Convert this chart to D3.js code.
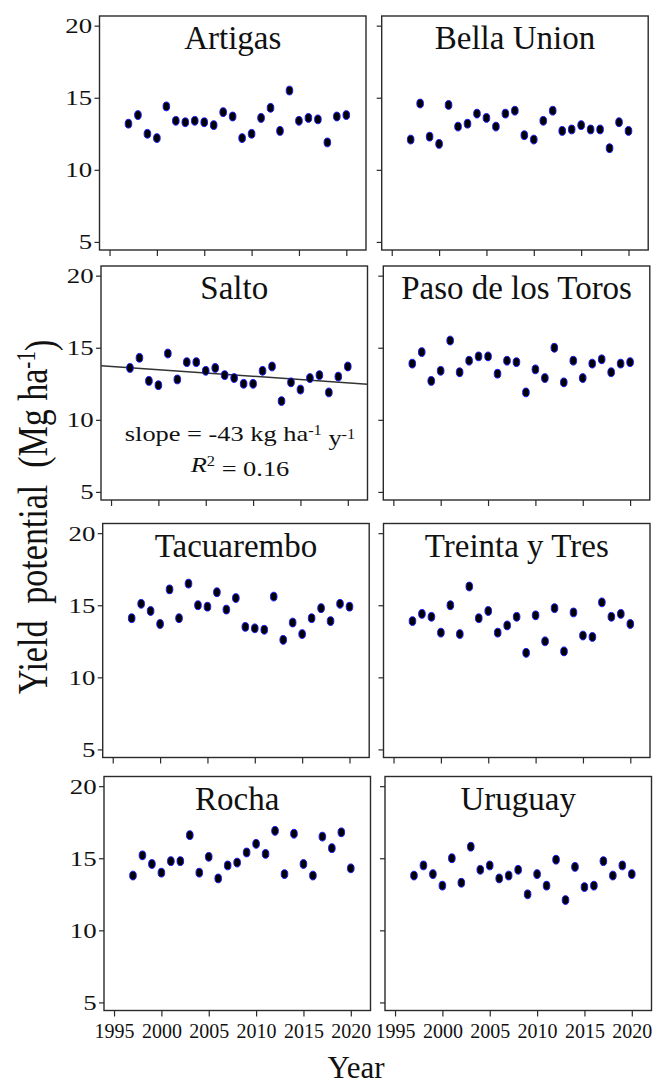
<!DOCTYPE html>
<html>
<head>
<meta charset="utf-8">
<script src="https://cdn.jsdelivr.net/npm/d3@7"></script>
<style>
  body { margin: 0; background: #fff; }
  text { font-family: "Liberation Serif", "Times New Roman", serif; fill: #111; }
</style>
</head>
<body>
<svg id="chart" width="654" height="1086"></svg>
<script>
// Yield potential (Mg/ha) per site, 1997-2020
const years = [1997, 1998, 1999, 2000, 2001, 2002, 2003, 2004, 2005, 2006, 2007, 2008,
               2009, 2010, 2011, 2012, 2013, 2014, 2015, 2016, 2017, 2018, 2019, 2020];

const artigas    = [13.2, 13.8, 12.5, 12.2, 14.4, 13.4, 13.3, 13.4, 13.3, 13.1, 14.0, 13.7,
                    12.2, 12.5, 13.6, 14.3, 12.7, 15.5, 13.4, 13.6, 13.5, 11.9, 13.7, 13.8];
const bellaUnion = [12.1, 14.6, 12.3, 11.8, 14.5, 13.0, 13.2, 13.9, 13.6, 13.0, 13.9, 14.1,
                    12.4, 12.1, 13.4, 14.1, 12.7, 12.8, 13.1, 12.8, 12.8, 11.5, 13.3, 12.7];
const salto      = [13.6, 14.3, 12.7, 12.4, 14.6, 12.8, 14.0, 14.0, 13.4, 13.6, 13.1, 12.9,
                    12.5, 12.5, 13.4, 13.7, 11.3, 12.6, 12.1, 12.9, 13.1, 11.9, 13.0, 13.7];
const pasoToros  = [13.9, 14.7, 12.7, 13.4, 15.5, 13.3, 14.1, 14.4, 14.4, 13.2, 14.1, 14.0,
                    11.9, 13.5, 12.9, 15.0, 12.6, 14.1, 12.9, 13.9, 14.2, 13.3, 13.9, 14.0];
const tacuarembo = [14.1, 15.1, 14.6, 13.7, 16.1, 14.1, 16.5, 15.0, 14.9, 15.9, 14.7, 15.5,
                    13.5, 13.4, 13.3, 15.6, 12.6, 13.8, 13.0, 14.1, 14.8, 13.9, 15.1, 14.9];
const treinta    = [13.9, 14.4, 14.2, 13.1, 15.0, 13.0, 16.3, 14.1, 14.6, 13.1, 13.6, 14.2,
                    11.7, 14.3, 12.5, 14.8, 11.8, 14.5, 12.9, 12.8, 15.2, 14.2, 14.4, 13.7];
const rocha      = [13.8, 15.2, 14.6, 14.0, 14.8, 14.8, 16.6, 14.0, 15.1, 13.6, 14.5, 14.7,
                    15.4, 16.0, 15.3, 16.9, 13.9, 16.7, 14.6, 13.8, 16.5, 15.7, 16.8, 14.3];
const uruguay    = [13.8, 14.5, 13.9, 13.1, 15.0, 13.3, 15.8, 14.2, 14.5, 13.6, 13.8, 14.2,
                    12.5, 13.9, 13.1, 14.9, 12.1, 14.4, 13.0, 13.1, 14.8, 13.8, 14.5, 13.9];

const sites = ["Artigas", "Bella Union", "Salto", "Paso de los Toros",
               "Tacuarembo", "Treinta y Tres", "Rocha", "Uruguay"];
const series = [artigas, bellaUnion, salto, pasoToros, tacuarembo, treinta, rocha, uruguay];

const yTicks = [5, 10, 15, 20];
const xTicks = [1995, 2000, 2005, 2010, 2015, 2020];
const saltoSlopeLabel = "-43";
const saltoR2Label = "0.16";

// Layout
const svg = d3.select("#chart");
const panelW = 266.5, panelH = 234;
const rowTop = [16, 266, 523.5, 776.5];
const colLeft = [[99.5, 381.7], [101, 383.3], [102.7, 383.5], [104, 385]];

const xScale = d3.scaleLinear().domain([1993.94, 2022.08]).range([0, panelW]);
const yScale = d3.scaleLinear().domain([4.44, 20.67]).range([panelH, 0]);

function sup(t, s) {
    t.append("tspan").attr("dy", "-0.45em").style("font-size", "0.62em").text(s);
}

series.forEach(function (vals, i) {
    const row = Math.floor(i / 2), col = i % 2;
    const g = svg.append("g")
        .attr("transform", "translate(" + colLeft[row][col] + "," + rowTop[row] + ")");

    // Frame
    g.append("rect")
        .attr("width", panelW)
        .attr("height", panelH)
        .attr("fill", "none")
        .attr("stroke", "#2a2a2a")
        .attr("stroke-width", 1.4);

    // y-axis
    const ya = g.append("g")
        .call(d3.axisLeft(yScale).tickValues(yTicks).tickSize(5).tickPadding(1)
            .tickFormat(col == 0 ? d3.format("d") : ""));
    ya.select(".domain").remove();
    ya.selectAll("line").attr("stroke", "#2a2a2a").attr("stroke-width", 1.2);
    ya.selectAll("text")
        .style("font-size", "22px")
        .attr("transform", "scale(1.22,1)");

    // x-axis
    const xa = g.append("g")
        .attr("transform", "translate(0," + panelH + ")")
        .call(d3.axisBottom(xScale).tickValues(xTicks).tickSize(6).tickPadding(7)
            .tickFormat(row == 3 ? d3.format("d") : ""));
    xa.select(".domain").remove();
    xa.selectAll("line").attr("stroke", "#2a2a2a").attr("stroke-width", 1.2);
    xa.selectAll("text").style("font-size", "20px");

    // Title
    g.append("text")
        .attr("x", panelW / 2)
        .attr("y", 33)
        .attr("text-anchor", "middle")
        .style("font-size", "33px")
        .text(sites[i]);

    // Trend line for Salto
    if (sites[i] == "Salto") {
        const mx = d3.mean(years), my = d3.mean(vals);
        const sxy = d3.sum(years, (d, k) => (d - mx) * (vals[k] - my));
        const sxx = d3.sum(years, d => (d - mx) * (d - mx));
        const b = sxy / sxx, a = my - b * mx;
        const dom = xScale.domain();
        g.append("path")
            .datum(dom)
            .attr("fill", "none")
            .attr("stroke", "#333")
            .attr("stroke-width", 1.5)
            .attr("d", d3.line()
                .x(function (d) { return xScale(d) })
                .y(function (d) { return yScale(a + b * d) }));

        const ann = g.append("g")
            .attr("transform", "translate(139,175) scale(1.2,1)");
        const t1 = ann.append("text")
            .attr("text-anchor", "middle")
            .style("font-size", "22px")
            .text("slope = " + saltoSlopeLabel + " kg ha");
        sup(t1, "-1");
        t1.append("tspan").attr("dy", "0.45em").text(" y");
        sup(t1, "-1");

        const t2 = ann.append("text")
            .attr("y", 31)
            .attr("text-anchor", "middle")
            .style("font-size", "22px");
        t2.append("tspan").style("font-style", "italic").text("R");
        sup(t2, "2");
        t2.append("tspan").attr("dy", "0.45em").text(" = " + saltoR2Label);
    }

    // Points
    g.selectAll("ellipse")
        .data(vals)
        .enter()
        .append("ellipse")
        .attr("cx", function (d, k) { return xScale(years[k]) })
        .attr("cy", function (d) { return yScale(d) })
        .attr("rx", 3.3)
        .attr("ry", 4.4)
        .attr("fill", "#000")
        .attr("stroke", "#1a1aff")
        .attr("stroke-width", 1);
});

// Axis titles
const yl = svg.append("text")
    .attr("transform", "translate(47,517) rotate(-90) scale(1,1.25)")
    .attr("text-anchor", "middle")
    .style("font-size", "34px")
    .style("white-space", "pre")
    .text("Yield  potential  (Mg ha");
sup(yl, "-1");
yl.append("tspan").attr("dy", "0.45em").text(")");

svg.append("text")
    .attr("x", 356)
    .attr("y", 1078)
    .attr("text-anchor", "middle")
    .style("font-size", "31px")
    .text("Year");
</script>
</body>
</html>
